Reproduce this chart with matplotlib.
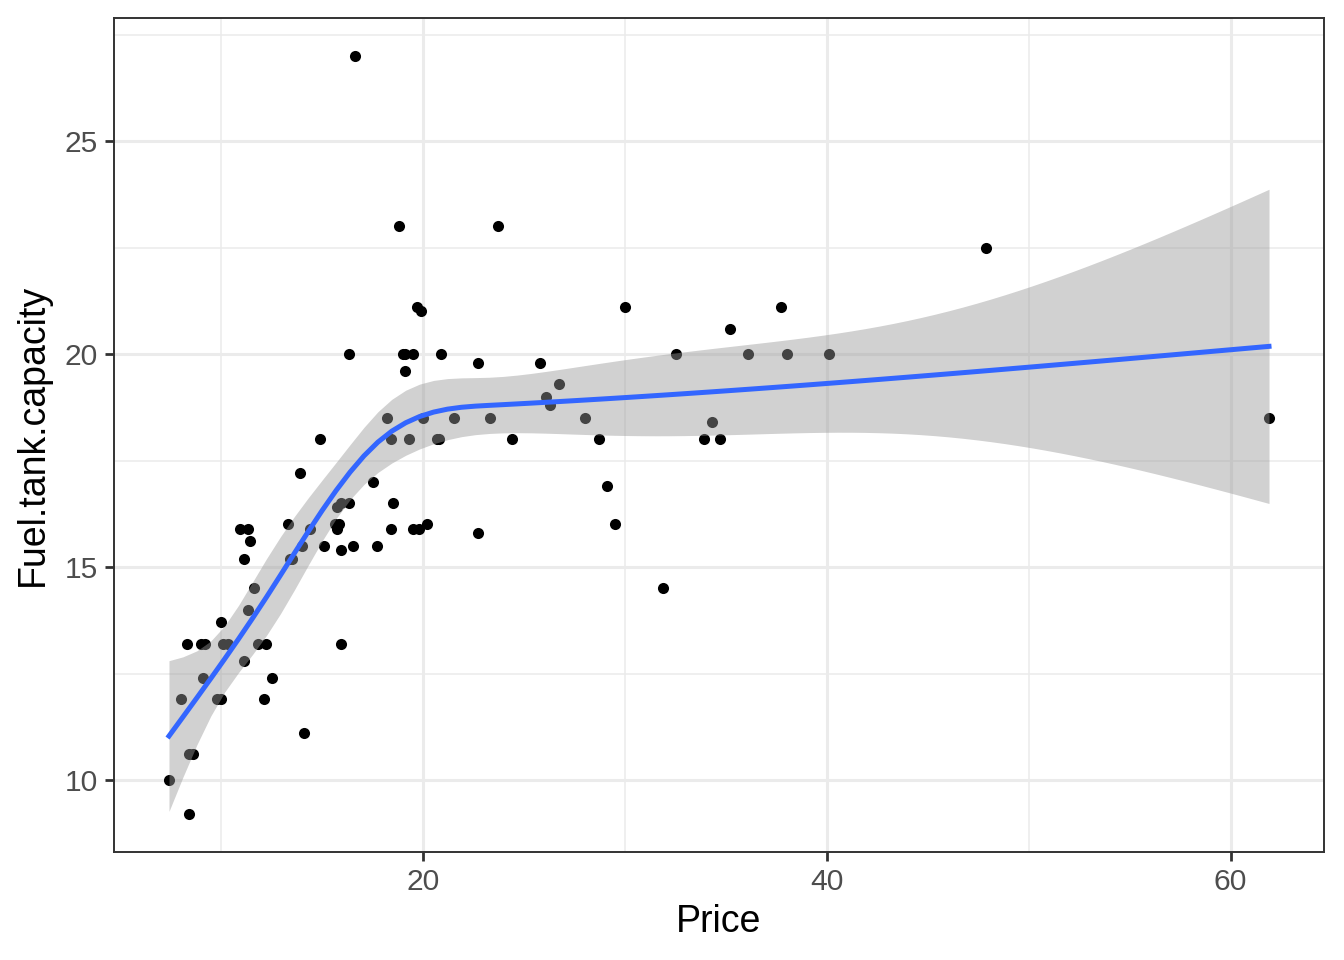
import numpy as np
import matplotlib
matplotlib.use("Agg")
import matplotlib.pyplot as plt
from matplotlib.ticker import MultipleLocator

# Cars93: Price vs Fuel.tank.capacity
price = [15.9, 33.9, 29.1, 37.7, 30.0, 15.7, 20.8, 23.7, 26.3, 34.7,
         40.1, 13.4, 11.4, 15.1, 15.9, 16.3, 16.6, 18.8, 38.0, 18.4,
         15.8, 29.5, 9.2, 11.3, 13.3, 19.0, 15.6, 25.8, 12.2, 19.3,
         7.4, 10.1, 11.3, 15.9, 14.0, 19.9, 20.2, 20.9, 8.4, 12.5,
         19.8, 12.1, 17.5, 8.0, 10.0, 10.0, 13.9, 47.9, 28.0, 35.2,
         34.3, 36.1, 8.3, 11.6, 16.5, 19.1, 32.5, 31.9, 61.9, 14.1,
         14.9, 10.3, 26.1, 11.8, 15.7, 19.1, 21.5, 13.5, 16.3, 19.5,
         20.7, 14.4, 9.0, 11.1, 17.7, 18.5, 24.4, 28.7, 11.1, 8.4,
         10.9, 19.5, 8.6, 9.8, 18.4, 18.2, 22.7, 9.1, 19.7, 20.0,
         23.3, 22.7, 26.7]
fuel = [13.2, 18.0, 16.9, 21.1, 21.1, 16.4, 18.0, 23.0, 18.8, 18.0,
        20.0, 15.2, 15.6, 15.5, 16.5, 20.0, 27.0, 23.0, 20.0, 18.0,
        16.0, 16.0, 13.2, 14.0, 16.0, 20.0, 16.0, 19.8, 13.2, 18.0,
        10.0, 13.2, 15.9, 15.4, 15.5, 21.0, 16.0, 20.0, 10.6, 12.4,
        15.9, 11.9, 17.0, 11.9, 13.7, 11.9, 17.2, 22.5, 18.5, 20.6,
        18.4, 20.0, 13.2, 14.5, 15.5, 19.6, 20.0, 14.5, 18.5, 11.1,
        18.0, 13.2, 19.0, 13.2, 15.9, 20.0, 18.5, 15.2, 16.5, 20.0,
        18.0, 15.9, 13.2, 15.2, 15.5, 16.5, 18.0, 18.0, 12.8, 9.2,
        15.9, 15.9, 10.6, 11.9, 15.9, 18.5, 19.8, 12.4, 21.1, 18.5,
        18.5, 15.8, 19.3]

x = np.array(price)
y = np.array(fuel)
n = len(x)
DF = 4  # natural spline degrees of freedom


def quantile7(p):
    s = np.sort(x)
    hh = (n - 1) * p
    lo = int(np.floor(hh))
    return s[lo] + (hh - lo) * (s[min(lo + 1, n - 1)] - s[lo])


knots = np.array([x.min()] + [quantile7(j / DF) for j in range(1, DF)] + [x.max()])


def ns_basis(xv):
    K = len(knots)

    def d(k, t):
        return (np.clip(t - knots[k], 0, None) ** 3
                - np.clip(t - knots[-1], 0, None) ** 3) / (knots[-1] - knots[k])
    cols = [np.ones_like(xv), xv]
    for k in range(K - 2):
        cols.append(d(k, xv) - d(K - 2, xv))
    return np.column_stack(cols)


X = ns_basis(x)
beta, *_ = np.linalg.lstsq(X, y, rcond=None)
res = y - X @ beta
p = X.shape[1]
s2 = res @ res / (n - p)
XtXi = np.linalg.inv(X.T @ X)
dfr = n - p
z = 1.959964
tq = z + (z ** 3 + z) / (4 * dfr) + (5 * z ** 5 + 16 * z ** 3 + 3 * z) / (96 * dfr ** 2)

xs = np.linspace(x.min(), x.max(), 80)
Xp = ns_basis(xs)
fit = Xp @ beta
se = np.sqrt(s2 * np.sum((Xp @ XtXi) * Xp, axis=1))
lower = fit - tq * se
upper = fit + tq * se

plt.rcParams['font.family'] = ['Liberation Sans', 'DejaVu Sans']
fig = plt.figure(figsize=(6.72, 4.8), dpi=200)
ax = fig.add_axes([114 / 1344, 1 - 852 / 960, (1324 - 114) / 1344, (852 - 18) / 960])

ax.scatter(x, y, s=16, color='black', linewidths=0, zorder=3)
ax.fill_between(xs, lower, upper, color='#999999', alpha=0.45, linewidth=0, zorder=4)
ax.plot(xs, fit, color='#3366FF', lw=1.8, zorder=5)

span_x = x.max() - x.min()
ax.set_xlim(x.min() - 0.05 * span_x, x.max() + 0.05 * span_x)
ylo = min(y.min(), lower.min())
yhi = max(y.max(), upper.max())
ax.set_ylim(ylo - 0.05 * (yhi - ylo), yhi + 0.05 * (yhi - ylo))

ax.xaxis.set_major_locator(MultipleLocator(20))
ax.xaxis.set_minor_locator(MultipleLocator(10))
ax.yaxis.set_major_locator(MultipleLocator(5))
ax.yaxis.set_minor_locator(MultipleLocator(2.5))
ax.grid(which='major', color='#ebebeb', lw=1.1, zorder=0)
ax.grid(which='minor', color='#ebebeb', lw=0.55, zorder=0)
ax.set_axisbelow(True)
ax.tick_params(which='major', length=3.3, width=1.0, color='#333333',
               labelsize=10.8, labelcolor='#4d4d4d', pad=2.5)
ax.tick_params(which='minor', length=0)
for s in ax.spines.values():
    s.set_color('#333333')
    s.set_linewidth(0.7)

ax.set_xlabel('Price', fontsize=13.5, labelpad=3)
ax.set_ylabel('Fuel.tank.capacity', fontsize=13.5, labelpad=5)

fig.savefig('out.png', dpi=200)
